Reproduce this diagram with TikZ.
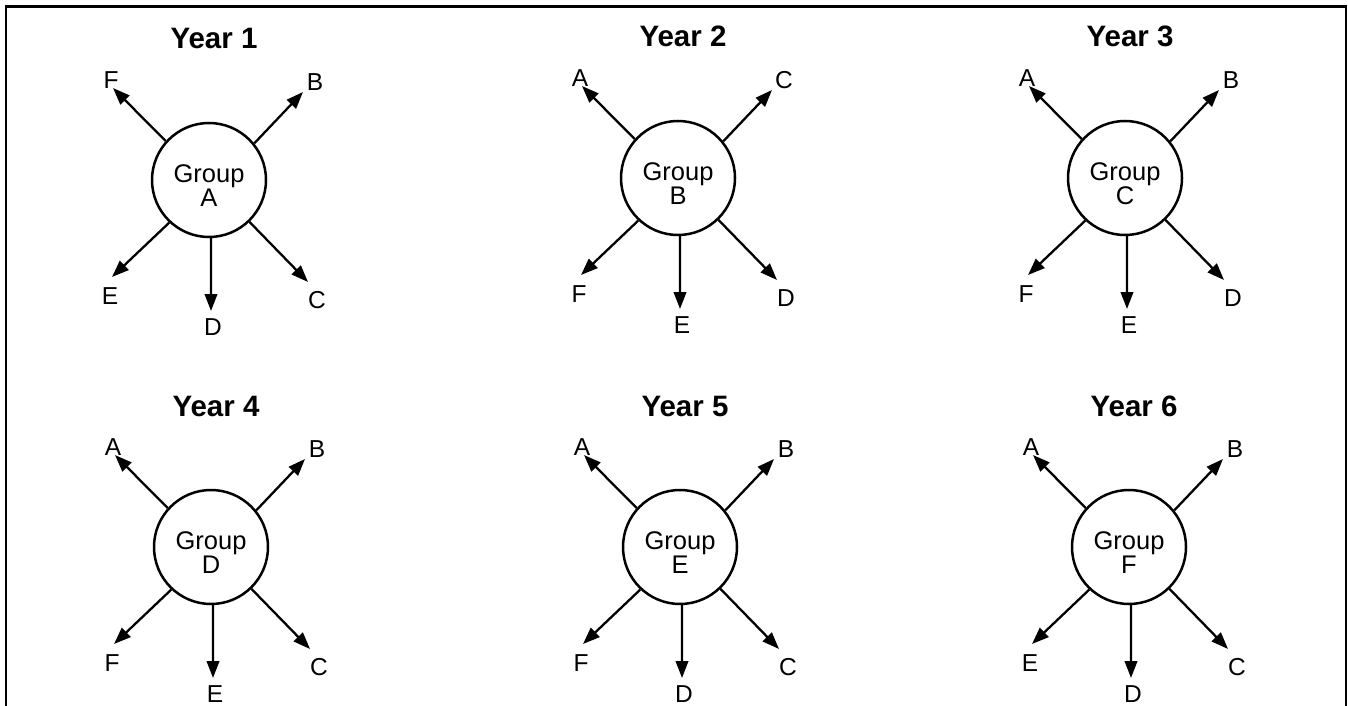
\documentclass[tikz,border=0pt]{standalone}
\usepackage{fontspec}
\setmainfont{Liberation Sans}
\usetikzlibrary{arrows.meta}
\tikzset{
  grp/.style={circle, draw, line width=2.5pt, minimum size=114pt, inner sep=0pt},
  grptxt/.style={align=center, font=\fontsize{25.5}{24}\selectfont, inner sep=0pt},
  ttl/.style={font=\fontsize{29.5}{30}\selectfont\bfseries, anchor=base, inner sep=0pt},
  lbl/.style={font=\fontsize{24.5}{25}\selectfont, inner sep=0pt},
  arr/.style={line width=2.3pt, -{Triangle[length=17pt,width=12.5pt]}},
  frame/.style={line width=2.8pt},
}
\newcommand\yearpanel[9]{%
  \begin{scope}[shift={#2}]
    \node[ttl] (#1y) at (5,-131) {Year #3};
    \node[grp] (#1c) at (0,0) {};
    \node[grptxt] (#1t) at (0,6) {Group\\#4};
    \coordinate (#1ul) at (-96,-92);
    \coordinate (#1ur) at (94,-88);
    \coordinate (#1ll) at (-97,97);
    \coordinate (#1b)  at (2,131);
    \coordinate (#1lr) at (99,102);
    \draw[arr] (#1c.138) -- (#1ul);
    \draw[arr] (#1c.39)  -- (#1ur);
    \draw[arr] (#1c.227) -- (#1ll);
    \draw[arr] (#1c.272) -- (#1b);
    \draw[arr] (#1c.314) -- (#1lr);
    \node[lbl] (#1Lul) at (-98,-100) {#5};
    \node[lbl] (#1Lur) at (106,-98) {#6};
    \node[lbl] (#1Lll) at (-99,116) {#7};
    \node[lbl] (#1Lb)  at (4,147) {#8};
    \node[lbl] (#1Llr) at (108,120) {#9};
  \end{scope}}
\begin{document}
\begin{tikzpicture}[x=1pt,y=-1pt]
  \useasboundingbox (0,0) rectangle (1348,706);
  \draw[frame] (6,720) -- (6,6.5) -- (1346,6.5) -- (1346,720);
  \yearpanel{p1}{(209,180)}{1}{A}{F}{B}{E}{D}{C}
  \yearpanel{p2}{(678,178)}{2}{B}{A}{C}{F}{E}{D}
  \yearpanel{p3}{(1125,178)}{3}{C}{A}{B}{F}{E}{D}
  \yearpanel{p4}{(211,547)}{4}{D}{A}{B}{F}{E}{C}
  \yearpanel{p5}{(680,547)}{5}{E}{A}{B}{F}{D}{C}
  \yearpanel{p6}{(1129,547)}{6}{F}{A}{B}{E}{D}{C}
\end{tikzpicture}
\end{document}
